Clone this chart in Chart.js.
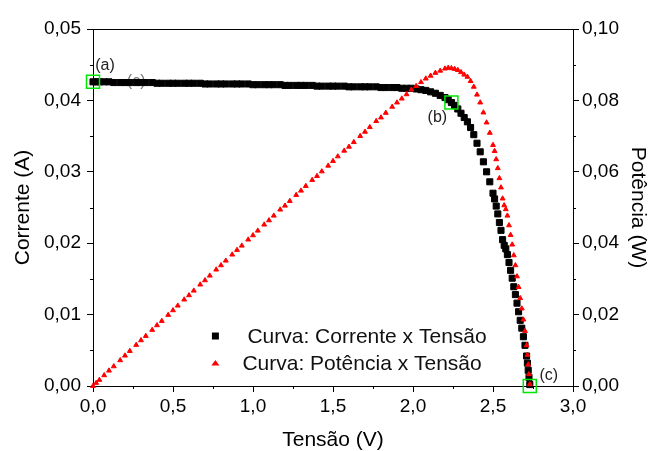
<!DOCTYPE html>
<html>
<head>
<meta charset="utf-8">
<script src="https://cdn.jsdelivr.net/npm/chart.js@4/dist/chart.umd.min.js"></script>
<style>
  html, body { margin: 0; padding: 0; background: #fff; }
  #wrap { width: 648px; height: 451px; }
</style>
</head>
<body>
<div id="wrap"><canvas id="c" width="648" height="451"></canvas></div>
<script>
// ---- data ----
const voltage = [0, 0.02, 0.04, 0.07, 0.10, 0.13, 0.17, 0.20, 0.23, 0.27,
  0.30, 0.33, 0.37, 0.40, 0.43, 0.47, 0.50, 0.53, 0.57, 0.60,
  0.63, 0.67, 0.70, 0.73, 0.77, 0.80, 0.83, 0.87, 0.90, 0.93,
  0.97, 1.00, 1.03, 1.07, 1.10, 1.13, 1.17, 1.20, 1.23, 1.27,
  1.30, 1.33, 1.37, 1.40, 1.43, 1.47, 1.50, 1.53, 1.57, 1.60,
  1.63, 1.67, 1.70, 1.73, 1.77, 1.80, 1.83, 1.87, 1.90, 1.93,
  1.96, 1.99, 2.02, 2.05, 2.08, 2.11, 2.14, 2.17, 2.20, 2.22,
  2.24, 2.26, 2.28, 2.30, 2.32, 2.34, 2.36, 2.38, 2.40, 2.42,
  2.44, 2.46, 2.48, 2.50, 2.51, 2.52, 2.53, 2.54, 2.55, 2.56,
  2.57, 2.58, 2.59, 2.60, 2.61, 2.62, 2.63, 2.64, 2.65, 2.66,
  2.67, 2.68, 2.69, 2.70, 2.71, 2.715, 2.72, 2.725, 2.73];

const current = [0.0426, 0.0426, 0.0426, 0.0426, 0.0426, 0.0425, 0.0425, 0.0425, 0.0425, 0.0425,
  0.0425, 0.0425, 0.0425, 0.0424, 0.0424, 0.0424, 0.0424, 0.0424, 0.0424, 0.0424,
  0.0424, 0.0424, 0.0423, 0.0423, 0.0423, 0.0423, 0.0423, 0.0423, 0.0423, 0.0423,
  0.0423, 0.0422, 0.0422, 0.0422, 0.0422, 0.0422, 0.0422, 0.0421, 0.0421, 0.0421,
  0.0421, 0.0421, 0.0421, 0.0420, 0.0420, 0.0420, 0.0420, 0.0420, 0.0420, 0.0419,
  0.0419, 0.0419, 0.0419, 0.0419, 0.0419, 0.0418, 0.0418, 0.0418, 0.0418, 0.0417,
  0.0417, 0.0417, 0.0416, 0.0415, 0.0414, 0.0412, 0.0410, 0.0407, 0.0404, 0.0401,
  0.0397, 0.0393, 0.0388, 0.0382, 0.0376, 0.0370, 0.0362, 0.0352, 0.0340, 0.0328,
  0.0314, 0.0300, 0.0286, 0.0270, 0.0262, 0.0252, 0.0241, 0.0229, 0.0218, 0.0205,
  0.0197, 0.0192, 0.0184, 0.0173, 0.0162, 0.0151, 0.0139, 0.0128, 0.0116, 0.0104,
  0.0092, 0.0081, 0.0069, 0.0057, 0.0042, 0.0032, 0.0022, 0.0012, 0.0002];

const power = [0, 0.00085, 0.0017, 0.0030, 0.0043, 0.0055, 0.0072, 0.0085, 0.0098, 0.0115,
  0.0128, 0.0140, 0.0157, 0.0170, 0.0182, 0.0199, 0.0212, 0.0225, 0.0242, 0.0254,
  0.0267, 0.0284, 0.0296, 0.0309, 0.0326, 0.0338, 0.0351, 0.0368, 0.0381, 0.0393,
  0.0410, 0.0422, 0.0435, 0.0452, 0.0464, 0.0477, 0.0494, 0.0505, 0.0518, 0.0535,
  0.0547, 0.0560, 0.0577, 0.0588, 0.0601, 0.0617, 0.0630, 0.0643, 0.0659, 0.0670,
  0.0683, 0.0700, 0.0712, 0.0725, 0.0742, 0.0752, 0.0765, 0.0782, 0.0794, 0.0805,
  0.0817, 0.0830, 0.0840, 0.0851, 0.0861, 0.0869, 0.0877, 0.0883, 0.0889, 0.0891,
  0.0890, 0.0888, 0.0885, 0.0879, 0.0872, 0.0866, 0.0854, 0.0838, 0.0816, 0.0794,
  0.0766, 0.0738, 0.0709, 0.0675, 0.0658, 0.0635, 0.0610, 0.0582, 0.0556, 0.0525,
  0.0506, 0.0495, 0.0477, 0.0450, 0.0423, 0.0396, 0.0366, 0.0338, 0.0307, 0.0277,
  0.0246, 0.0217, 0.0186, 0.0154, 0.0114, 0.0087, 0.0060, 0.0033, 0.0005];

// highlighted operating points (a), (b), (c)
const markLabels = ['(a)', '(b)', '(c)'];
const markVoltage = [0, 2.24, 2.73];
const markCurrent = [0.0426, 0.0397, 0];

const seriesNames = ['Curva: Corrente x Tensão', 'Curva: Potência x Tensão'];
const xTitle = 'Tensão (V)';
const yTitle = 'Corrente (A)';
const y1Title = 'Potência (W)';

// ---- helpers ----
const FONT = '"Liberation Sans", Arial, Helvetica, sans-serif';
const comma = (v, d) => Number(v).toFixed(d).replace('.', ',');
const pts = (xs, ys) => xs.map((x, i) => ({x: x, y: ys[i]}));

const decorPlugin = {
  id: 'decor',
  beforeDatasetsDraw(chart) {
    const ctx = chart.ctx, x = chart.scales.x, y = chart.scales.y;
    // faint label hidden behind the current curve
    ctx.save();
    ctx.font = '16px ' + FONT;
    ctx.fillStyle = '#777';
    ctx.textAlign = 'center';
    ctx.textBaseline = 'middle';
    ctx.fillText('(c)', x.getPixelForValue(0.27), y.getPixelForValue(markCurrent[0]));
    ctx.restore();
  },
  afterDraw(chart) {
    const ctx = chart.ctx, a = chart.chartArea;
    const sx = chart.scales.x, sy = chart.scales.y, sy1 = chart.scales.y1;
    ctx.save();
    ctx.strokeStyle = '#000';
    ctx.lineWidth = 1;
    // top frame line
    ctx.beginPath();
    ctx.moveTo(a.left, Math.round(a.top) + 0.5);
    ctx.lineTo(a.right + 0.5, Math.round(a.top) + 0.5);
    ctx.stroke();
    // minor ticks
    ctx.beginPath();
    for (let v = 0.25; v < 3; v += 0.5) {
      const px = Math.round(sx.getPixelForValue(v)) + 0.5;
      ctx.moveTo(px, a.bottom); ctx.lineTo(px, a.bottom + 3);
    }
    for (let v = 0.005; v < 0.05; v += 0.01) {
      const py = Math.round(sy.getPixelForValue(v)) + 0.5;
      ctx.moveTo(a.left, py); ctx.lineTo(a.left - 3, py);
    }
    for (let v = 0.01; v < 0.1; v += 0.02) {
      const py = Math.round(sy1.getPixelForValue(v)) + 0.5;
      ctx.moveTo(a.right, py); ctx.lineTo(a.right + 3, py);
    }
    ctx.stroke();

    // point labels
    ctx.font = '16px ' + FONT;
    ctx.fillStyle = '#222';
    ctx.textAlign = 'center';
    ctx.textBaseline = 'middle';
    const offs = [[12, -16], [-14, 15], [19, -10]];
    markLabels.forEach((t, i) => {
      ctx.fillText(t, sx.getPixelForValue(markVoltage[i]) + offs[i][0],
                      sy.getPixelForValue(markCurrent[i]) + offs[i][1]);
    });

    // legend
    const lx = a.left + (a.right - a.left) * 0.255;
    const ly1 = a.top + (a.bottom - a.top) * 0.86;
    const ly2 = ly1 + 27;
    ctx.fillStyle = '#000';
    ctx.fillRect(lx - 3.5, ly1 - 3.5, 7, 7);
    ctx.fillStyle = '#ff0000';
    ctx.beginPath();
    ctx.moveTo(lx - 4, ly2 + 2.5);
    ctx.lineTo(lx, ly2 - 3);
    ctx.lineTo(lx + 4, ly2 + 2.5);
    ctx.closePath();
    ctx.fill();
    ctx.font = '21px ' + FONT;
    ctx.fillStyle = '#111';
    ctx.textAlign = 'left';
    ctx.fillText(seriesNames[0], lx + 32, ly1 + 1);
    ctx.fillText(seriesNames[1], lx + 27, ly2 + 1);
    ctx.restore();
  }
};

const tickFont = {family: FONT, size: 19};
const titleFont = {family: FONT, size: 21, lineHeight: 1};

new Chart(document.getElementById('c'), {
  type: 'scatter',
  data: {
    datasets: [
      {
        label: 'marcadores',
        data: pts(markVoltage, markCurrent),
        yAxisID: 'y',
        pointStyle: 'rect',
        pointRadius: 9.2,
        backgroundColor: 'rgba(0,0,0,0)',
        borderColor: '#00e600',
        pointBorderWidth: 1.5,
        clip: false,
        order: 0
      },
      {
        label: seriesNames[1],
        data: pts(voltage, power),
        yAxisID: 'y1',
        pointStyle: 'triangle',
        pointRadius: 2.8,
        backgroundColor: '#ff0000',
        borderColor: '#ff0000',
        pointBorderWidth: 1,
        clip: false,
        order: 1
      },
      {
        label: seriesNames[0],
        data: pts(voltage, current),
        yAxisID: 'y',
        pointStyle: 'rect',
        pointRadius: 4.3,
        backgroundColor: '#000',
        borderColor: '#000',
        pointBorderWidth: 1,
        clip: false,
        order: 2
      }
    ]
  },
  options: {
    responsive: false,
    animation: false,
    devicePixelRatio: 1,
    layout: {padding: {top: 29, left: 0, right: 0, bottom: 0}},
    plugins: {legend: {display: false}, tooltip: {enabled: false}},
    scales: {
      x: {
        type: 'linear', position: 'bottom', min: 0, max: 3,
        afterFit: s => { s.height = 65; },
        ticks: {stepSize: 0.5, color: '#000', font: tickFont, padding: 3,
                callback: v => comma(v, 1)},
        grid: {drawOnChartArea: false, drawTicks: true, tickLength: 6, color: '#000'},
        border: {display: true, color: '#000', width: 1},
        title: {display: true, text: xTitle, color: '#000', font: titleFont, padding: 0}
      },
      y: {
        type: 'linear', position: 'left', min: 0, max: 0.05,
        afterFit: s => { s.width = 93; },
        ticks: {stepSize: 0.01, color: '#000', font: tickFont, padding: 6,
                callback: v => comma(v, 2)},
        grid: {drawOnChartArea: false, drawTicks: true, tickLength: 6, color: '#000'},
        border: {display: true, color: '#000', width: 1},
        title: {display: true, text: yTitle, color: '#000', font: titleFont, padding: {top: 13, bottom: 0}}
      },
      y1: {
        type: 'linear', position: 'right', min: 0, max: 0.1,
        afterFit: s => { s.width = 75; },
        ticks: {stepSize: 0.02, color: '#000', font: tickFont, padding: 3,
                callback: v => comma(v, 2)},
        grid: {drawOnChartArea: false, drawTicks: true, tickLength: 6, color: '#000'},
        border: {display: true, color: '#000', width: 1},
        title: {display: true, text: y1Title, color: '#000', font: titleFont, padding: {top: 0, bottom: 0}}
      }
    }
  },
  plugins: [decorPlugin]
});
</script>
</body>
</html>
